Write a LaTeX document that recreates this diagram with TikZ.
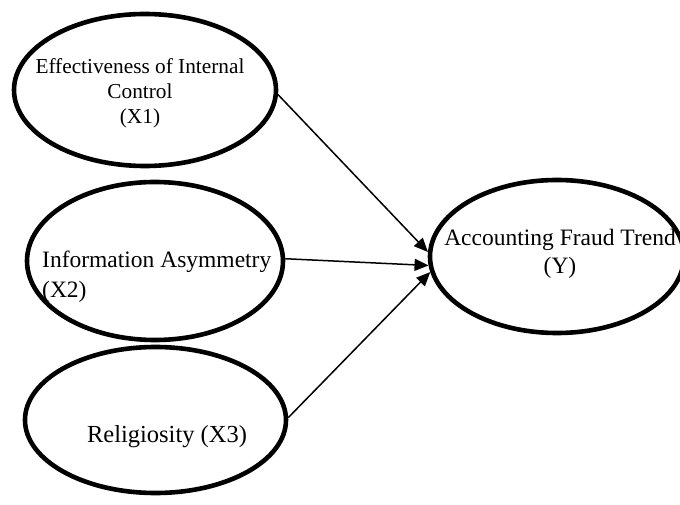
\documentclass[tikz,border=0pt]{standalone}
\usepackage{fontspec}
\setmainfont{Liberation Serif}
\usetikzlibrary{shapes.geometric,arrows.meta}

\begin{document}
\begin{tikzpicture}[x=1pt, y=-1pt,
  var/.style={ellipse, draw, line width=4.6pt, inner sep=0pt},
  lbl/.style={inner sep=0pt, font=\fontsize{23.5}{25}\selectfont},
  link/.style={-{Triangle[length=14pt,width=12pt]}, line width=1.5pt}]
  \useasboundingbox (0,0) rectangle (680,505);
  \node[var, minimum width=262pt, minimum height=152pt] (x1) at (145,90) {};
  \node[var, minimum width=256pt, minimum height=158pt] (x2) at (155,261) {};
  \node[var, minimum width=261pt, minimum height=146pt] (x3) at (155.5,420) {};
  \node[var, minimum width=254pt, minimum height=153pt] (y) at (557,256.5) {};
  \node[lbl, align=center, font=\fontsize{21.3}{25}\selectfont] (t1) at (140,93) {Effectiveness of Internal\\ Control\\ (X1)};
  \node[lbl, align=left, anchor=west, font=\fontsize{23.5}{30}\selectfont] (t2) at (42,277) {Information Asymmetry\\ (X2)};
  \node[lbl, font=\fontsize{24.5}{28}\selectfont] (t3) at (167,437) {Religiosity (X3)};
  \node[lbl, align=center, font=\fontsize{23.5}{28}\selectfont] (ty) at (560,253.5) {Accounting Fraud Trend\\ (Y)};
  \draw[link] (x1.-2) -- (y.178);
  \draw[link] (x2.1) -- (y.184);
  \draw[link] (x3.1) -- (y.187.5);
\end{tikzpicture}
\end{document}
